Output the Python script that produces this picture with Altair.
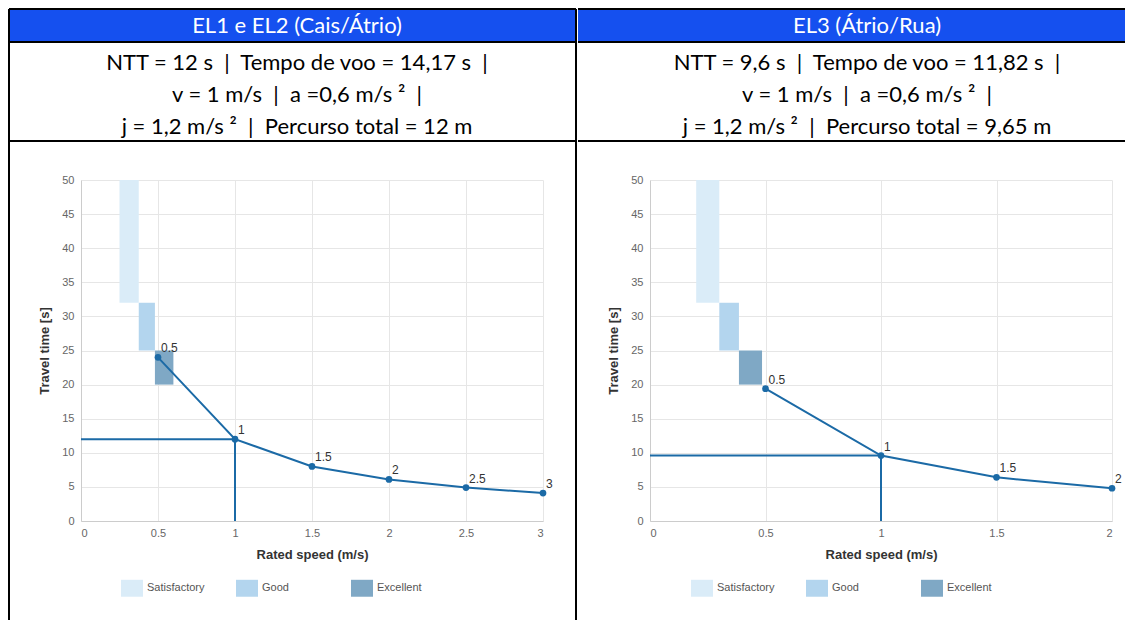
import altair as alt
import pandas as pd

# ---------------- data ----------------
CATEGORIES = ["Satisfactory", "Good", "Excellent"]
ZONE_COLORS = ["#daecf8", "#b3d5ee", "#7fa8c5"]
ZONE_T_LOW = [32, 25, 20]
ZONE_T_HIGH = [50, 32, 25]

L_SPEEDS = [0.5, 1, 1.5, 2, 2.5, 3]
L_TIMES = [24.0, 12.0, 8.0, 6.1, 4.9, 4.1]
L_ZONE_V0 = [0.25, 0.375, 0.48]
L_ZONE_V1 = [0.375, 0.48, 0.6]
L_NTT = 12
L_XTICKS = [0, 0.5, 1, 1.5, 2, 2.5, 3]

R_SPEEDS = [0.5, 1, 1.5, 2]
R_TIMES = [19.4, 9.6, 6.4, 4.8]
R_ZONE_V0 = [0.2, 0.3, 0.385]
R_ZONE_V1 = [0.3, 0.385, 0.485]
R_NTT = 9.6
R_XTICKS = [0, 0.5, 1, 1.5, 2]

Y_TICKS = [0, 5, 10, 15, 20, 25, 30, 35, 40, 45, 50]
RATED_SPEED = 1

SEP = "\u00a0 |\u00a0 "
L_HEADER = "EL1 e EL2 (Cais/Átrio)"
L_INFO = [
    "NTT = 12 s" + SEP + "Tempo de voo = 14,17 s\u00a0 |",
    "v = 1 m/s" + SEP + "a =0,6 m/s ²\u00a0 |",
    "j = 1,2 m/s ²" + SEP + "Percurso total = 12 m",
]
R_HEADER = "EL3 (Átrio/Rua)"
R_INFO = [
    "NTT = 9,6 s" + SEP + "Tempo de voo = 11,82 s\u00a0 |",
    "v = 1 m/s" + SEP + "a =0,6 m/s ²\u00a0 |",
    "j = 1,2 m/s ²" + SEP + "Percurso total = 9,65 m",
]

# ---------------- styles ----------------
W, H = 462, 341
LINE = "#1b6aa6"
BLUE = "#1550ef"
TEXT_FONT = "Lato"
ONE = pd.DataFrame({"k": [0]})


def hrule(y, xa, xb):
    return alt.Chart(ONE).mark_rule(color="black", strokeWidth=2).encode(
        x=alt.value(xa), x2=alt.value(xb), y=alt.value(y))


def vrule(x, ya, yb):
    return alt.Chart(ONE).mark_rule(color="black", strokeWidth=2).encode(
        x=alt.value(x), y=alt.value(ya), y2=alt.value(yb))


def label(text, x, y, size, color, weight="normal"):
    return alt.Chart(ONE).mark_text(
        align="center", baseline="middle", font=TEXT_FONT, fontSize=size,
        color=color, fontWeight=weight).encode(
        x=alt.value(x), y=alt.value(y), text=alt.value(text))


def panel(header, info, speeds, times, v0, v1, ntt, xticks, xmax,
          x_left, x_right, legend_x, text_cx, borders):
    pts = pd.DataFrame({"speed": speeds, "time": times})
    zones = pd.DataFrame({"zone": CATEGORIES, "v0": v0, "v1": v1,
                          "t0": ZONE_T_LOW, "t1": ZONE_T_HIGH})
    guide = pd.DataFrame({"x0": [0], "x1": [RATED_SPEED], "y0": [0], "y1": [ntt]})

    xscale = alt.Scale(domain=[0, xmax], nice=False)
    yscale = alt.Scale(domain=[0, 50], nice=False)
    xaxis = alt.Axis(values=xticks, format="~g", title="Rated speed (m/s)")
    yaxis = alt.Axis(values=Y_TICKS, title="Travel time [s]")

    def X(f):
        return alt.X(f, type="quantitative", scale=xscale, axis=xaxis)

    def Y(f):
        return alt.Y(f, type="quantitative", scale=yscale, axis=yaxis)

    deco = [
        alt.Chart(ONE).mark_rect(color=BLUE).encode(
            x=alt.value(x_left), x2=alt.value(x_right),
            y=alt.value(-170), y2=alt.value(-139)),
        hrule(-171, x_left, x_right),
        hrule(-138, x_left, x_right),
        hrule(-39, x_left, x_right),
        label(header, text_cx, -154, 22, "white"),
    ]
    for i, t in enumerate(info):
        deco.append(label(t, text_cx, -117 + 32 * i, 22, "black"))
    for bx in borders:
        deco.append(vrule(bx, -171, 440))

    rects = alt.Chart(zones).mark_rect(opacity=1).encode(
        x=X("v0"), x2="v1", y=Y("t0"), y2="t1",
        color=alt.Color("zone:N",
                        scale=alt.Scale(domain=CATEGORIES, range=ZONE_COLORS),
                        legend=alt.Legend(
                            orient="none", legendX=legend_x, legendY=397,
                            direction="horizontal", columns=3, gridAlign="all",
                            title=None, symbolType="M-1,-0.77H1V0.77H-1Z",
                            symbolSize=484, symbolStrokeWidth=0, symbolOpacity=1,
                            labelFontSize=11, labelColor="#555",
                            labelFont="Liberation Sans", labelOffset=4,
                            columnPadding=31, padding=0)))
    hline = alt.Chart(guide).mark_rule(color=LINE, strokeWidth=2).encode(
        x=X("x0"), x2="x1", y=Y("y1"))
    vline = alt.Chart(guide).mark_rule(color=LINE, strokeWidth=2).encode(
        x=X("x1"), y=Y("y0"), y2="y1")
    line = alt.Chart(pts).mark_line(color=LINE, strokeWidth=2).encode(
        x=X("speed"), y=Y("time"))
    dots = alt.Chart(pts).mark_circle(color=LINE, size=45, opacity=1).encode(
        x=X("speed"), y=Y("time"))
    texts = alt.Chart(pts).mark_text(
        align="left", baseline="alphabetic", dx=3, dy=-5, fontSize=12,
        color="#333", font="Liberation Sans").encode(
        x=X("speed"), y=Y("time"), text=alt.Text("speed:Q", format="~g"))

    return alt.layer(*deco, rects, hline, vline, line, dots, texts).properties(
        width=W, height=H)


left = panel(L_HEADER, L_INFO, L_SPEEDS, L_TIMES, L_ZONE_V0, L_ZONE_V1, L_NTT,
             L_XTICKS, 3, -72, 495, 40, 216, [-72, 495])
right = panel(R_HEADER, R_INFO, R_SPEEDS, R_TIMES, R_ZONE_V0, R_ZONE_V1, R_NTT,
              R_XTICKS, 2, -72, 475, 41, 217, [])

chart = alt.hconcat(left, right, spacing=0).resolve_scale(
    x="independent", y="independent", color="independent"
).resolve_legend(color="independent").properties(
    padding=0
).configure_view(stroke=None).configure_axis(
    gridColor="#e6e6e6", domainColor="#cccccc", ticks=False,
    labelColor="#666", labelFont="Liberation Sans", labelFontSize=11,
    titleFont="Liberation Sans", titleFontSize=13, titleFontWeight="bold",
    titleColor="#333", labelPadding=6
).configure_axisX(titlePadding=10).configure_axisY(titlePadding=10, labelPadding=7)

chart.save("out.html", embed_options={"renderer": "svg", "actions": False})
